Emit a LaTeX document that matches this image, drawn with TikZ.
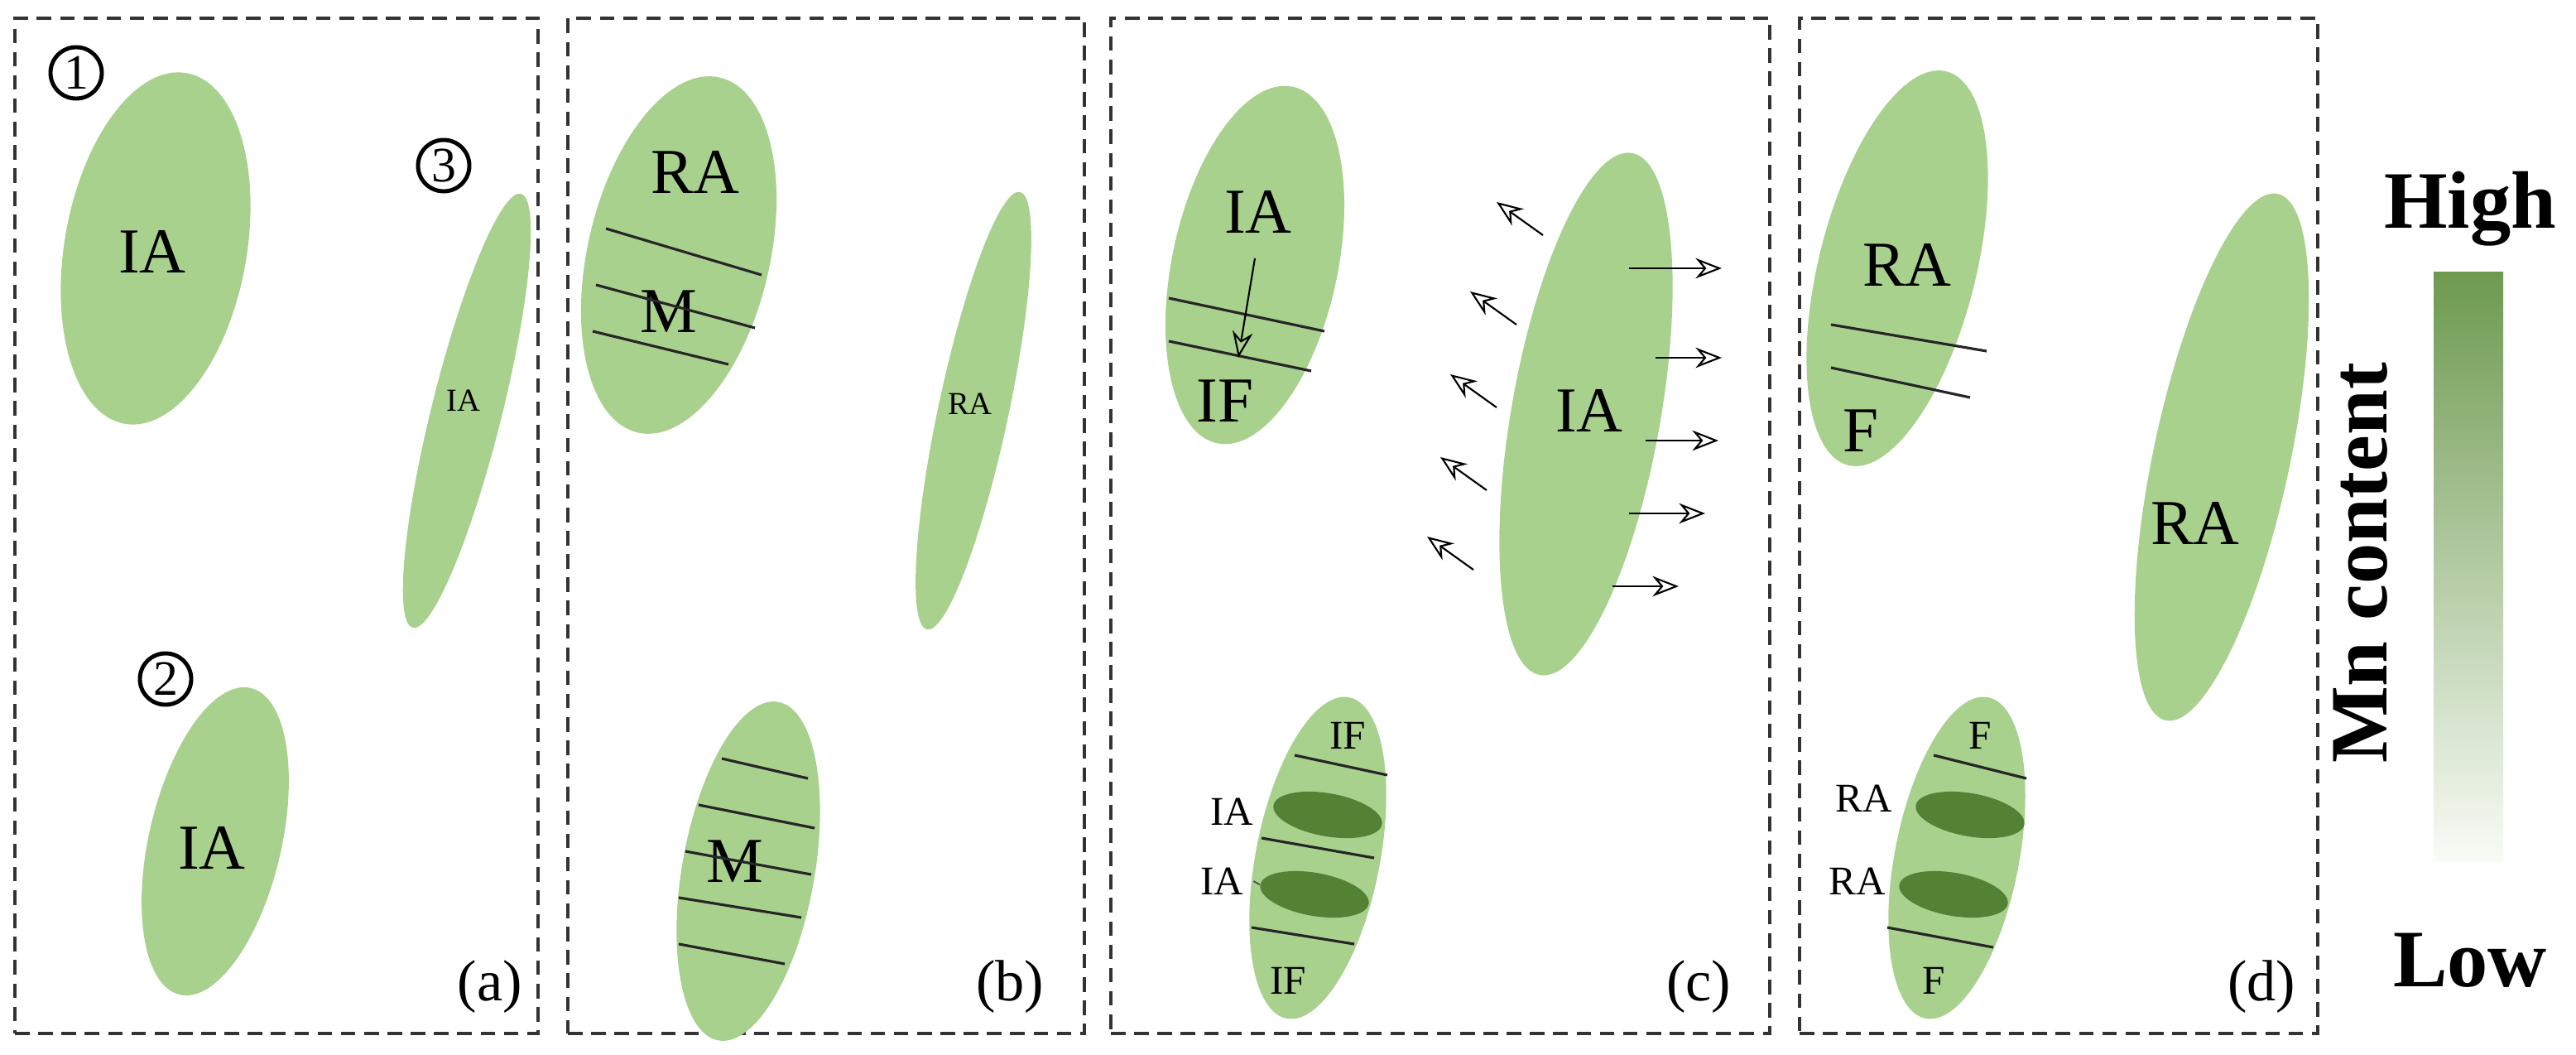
\documentclass[tikz,border=0pt]{standalone}
\usepackage{fontspec}
\setmainfont{Liberation Serif}
\usetikzlibrary{shapes.geometric,arrows.meta}
\definecolor{lg}{HTML}{A9D18E}
\definecolor{dg}{HTML}{548235}
\tikzset{
 blob/.style={ellipse,fill=lg,draw=none,inner sep=0pt},
 dark/.style={ellipse,fill=dg,draw=none,inner sep=0pt},
 panel/.style={draw=black!80,line width=1.2pt,dash pattern=on 5pt off 3pt,anchor=north west,minimum height=12.26cm},
 ln/.style={line width=0.9pt,black!85},
 arr/.style={line width=0.6pt,-{Stealth[open,length=9pt,width=7pt]}},
 big/.style={font=\fontsize{22}{24}\selectfont},
 mid/.style={font=\fontsize{14}{16}\selectfont},
 sml/.style={font=\fontsize{11}{13}\selectfont},
 num/.style={circle,draw,line width=1.4pt,inner sep=0pt,minimum size=0.62cm,font=\fontsize{17}{17}\selectfont},
 tag/.style={font=\fontsize{20}{22}\selectfont},
 cb/.style={font=\fontsize{28}{30}\selectfont\bfseries},
}
\begin{document}
\begin{tikzpicture}[x=0.04cm,y=-0.04cm]
\useasboundingbox (0,0) rectangle (778,318.5);
% panels
\node[panel,minimum width=6.32cm] (pa) at (4,5) {};
\node[panel,minimum width=6.24cm] (pb) at (171,5) {};
\node[panel,minimum width=7.96cm] (pc) at (335,5) {};
\node[panel,minimum width=6.26cm] (pd) at (543,5) {};
% (a)
\node[blob,minimum width=2.2cm,minimum height=4.3cm,rotate=-10] (a1) at (47,75) {};
\node[big] (a1t) at (46,76) {IA};
\node[blob,minimum width=0.85cm,minimum height=5.4cm,rotate=-14] (a3) at (141,124) {};
\node[sml] (a3t) at (140,121) {IA};
\node[blob,minimum width=1.6cm,minimum height=3.8cm,rotate=-13] (a2) at (65,254) {};
\node[big] (a2t) at (64,256) {IA};
\node[num] (n1) at (23,22) {1};
\node[num] (n3) at (134,50) {3};
\node[num] (n2) at (50,205) {2};
\node[tag] (ta) at (148,298) {(a)};
% (b)
\node[blob,minimum width=2.2cm,minimum height=4.4cm,rotate=-13] (b1) at (205,77) {};
\node[big] (b1t) at (210,52) {RA};
\node[big] (b1m) at (202,94) {M};
\draw[ln] (183,69) -- (230,83);
\draw[ln] (180,86) -- (228,99);
\draw[ln] (179,100) -- (220,110);
\node[blob,minimum width=0.85cm,minimum height=5.4cm,rotate=-12] (b3) at (294,124) {};
\node[sml] (b3t) at (293,122) {RA};
\node[blob,minimum width=1.6cm,minimum height=4.15cm,rotate=-10] (b2) at (226,263) {};
\node[big] (b2m) at (222,260) {M};
\draw[ln] (218,229) -- (244,235);
\draw[ln] (211,243) -- (246,250);
\draw[ln] (207,257) -- (245,264);
\draw[ln] (205,271) -- (242,277);
\draw[ln] (205,285) -- (237,291);
\node[tag] (tb) at (305,298) {(b)};
% (c)
\node[blob,minimum width=2.0cm,minimum height=4.4cm,rotate=-12] (c1) at (379,80) {};
\node[big] (c1t) at (380,64) {IA};
\node[big] (c1f) at (370,121) {IF};
\draw[ln] (353,90) -- (400,100);
\draw[ln] (353,103) -- (396,112);
\coordinate (c1s) at (379,78);
\coordinate (c1e) at (374,108);
\draw[arr] (c1s) -- (c1e);
\node[blob,minimum width=1.8cm,minimum height=6.4cm,rotate=-10] (c2) at (479,125) {};
\node[big] (c2t) at (480,124) {IA};
\foreach \i/\sx/\sy in {1/466/71,2/458/98,3/452/123,4/449/148,5/445/172}{
 \coordinate (ls\i) at (\sx,\sy); \coordinate (le\i) at (\sx-14,\sy-10);
 \draw[arr] (ls\i) -- (le\i);}
\foreach \i/\sx/\sy/\ex in {1/492/81/520,2/500/108/520,3/497/133/519,4/492/155/515,5/487/177/507}{
 \coordinate (rs\i) at (\sx,\sy); \coordinate (re\i) at (\ex,\sy);
 \draw[arr] (rs\i) -- (re\i);}
\node[blob,minimum width=1.5cm,minimum height=3.95cm,rotate=-11] (c3) at (398,259) {};
\node[dark,minimum width=1.33cm,minimum height=0.52cm,rotate=-10] (c3a) at (401,246) {};
\node[dark,minimum width=1.33cm,minimum height=0.52cm,rotate=-10] (c3b) at (397,270) {};
\draw[ln] (391,228) -- (419,234);
\draw[ln] (381,253) -- (415,259);
\draw[ln] (378,280) -- (409,285);
\node[mid] (c3f1) at (407,222) {IF};
\node[mid] (c3f2) at (389,296) {IF};
\node[mid] (c3l1) at (372,245) {IA};
\node[mid] (c3l2) at (369,266) {IA};
\draw[line width=0.5pt,black!70] (c3l2.east) -- (c3b.west);
\node[tag] (tc) at (513,298) {(c)};
% (d)
\node[blob,minimum width=1.9cm,minimum height=4.9cm,rotate=-14] (d1) at (573,81) {};
\node[big] (d1t) at (576,80) {RA};
\node[big] (d1f) at (562,130) {F};
\draw[ln] (553,98) -- (600,106);
\draw[ln] (553,111) -- (595,120);
\node[blob,minimum width=1.65cm,minimum height=6.5cm,rotate=-12] (d2) at (671,138) {};
\node[big] (d2t) at (663,158) {RA};
\node[blob,minimum width=1.5cm,minimum height=3.95cm,rotate=-11] (d3) at (591,259) {};
\node[dark,minimum width=1.33cm,minimum height=0.52cm,rotate=-10] (d3a) at (595,246) {};
\node[dark,minimum width=1.33cm,minimum height=0.52cm,rotate=-10] (d3b) at (590,270) {};
\draw[ln] (584,228) -- (612,235);
\draw[ln] (570,280) -- (602,286);
\node[mid] (d3f1) at (598,222) {F};
\node[mid] (d3f2) at (584,296) {F};
\node[mid] (d3l1) at (563,241) {RA};
\node[mid] (d3l2) at (561,266) {RA};
\node[tag] (td) at (683,298) {(d)};
% colour bar
\shade[top color=dg!70!lg,bottom color=lg!8] (735,82) rectangle (756,260);
\node[cb] (hi) at (746,63) {High};
\node[cb] (lo) at (746,290) {Low};
\node[cb,rotate=90] (mn) at (713,170) {Mn content};
\end{tikzpicture}
\end{document}
